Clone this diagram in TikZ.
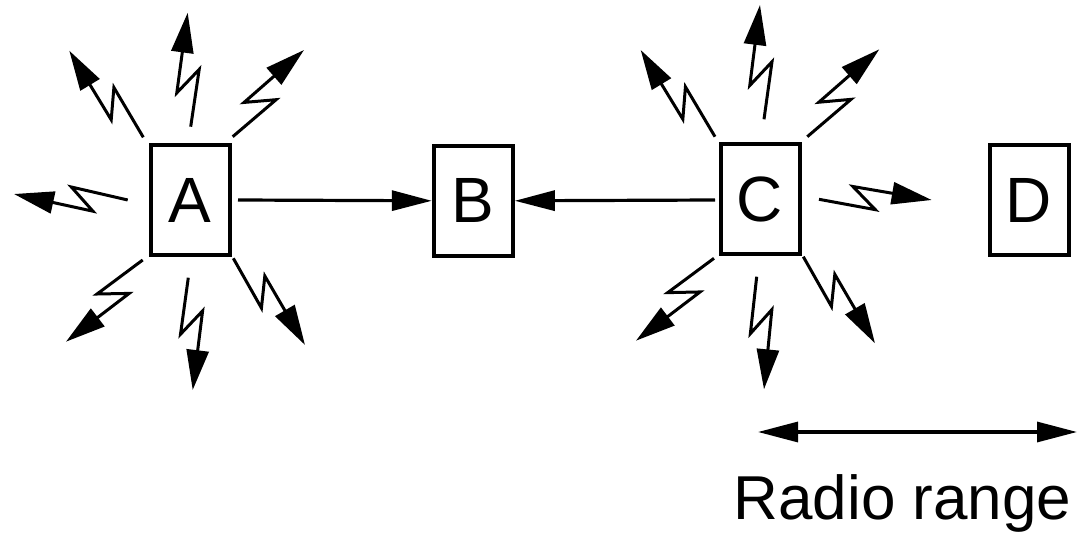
\documentclass[tikz,border=0pt]{standalone}
\usepackage{fontspec}
\setmainfont{Liberation Sans}
\usetikzlibrary{calc,arrows.meta}
\tikzset{
  station/.style={draw,line width=2pt,minimum width=39.5pt,minimum height=55pt,inner sep=0pt,font=\fontsize{32}{36}\selectfont},
  zap/.style={line width=1.5pt,-{Triangle[length=20pt,width=11pt]}},
  link/.style={line width=1.6pt,-{Triangle[length=20pt,width=10pt]}},
  rangearrow/.style={line width=1.6pt,{Triangle[length=20pt,width=10pt]}-{Triangle[length=20pt,width=10pt]}}
}
\newcommand\zapline[2]{\draw[zap] (#1) -- ($(#1)!0.5!(#2)!5pt!-90:(#2)$) -- ($(#1)!0.3!(#2)!6.5pt!90:(#2)$) -- (#2);}
\begin{document}
\begin{tikzpicture}[x=0.5pt,y=-0.5pt]
\useasboundingbox (0,0) rectangle (1078,535);
\node[station] (A) at (190,200) {A};
\node[station] (B) at (473.3,200.8) {B};
\node[station] (C) at (760,199) {C};
\node[station] (D) at (1029,200.5) {D};
% A radiation
\coordinate (a1s) at (143.3,137.3); \coordinate (a1t) at (69.3,50.7);
\coordinate (a2s) at (190.7,126.7); \coordinate (a2t) at (187.7,12.7);
\coordinate (a3s) at (232.7,136.7); \coordinate (a3t) at (304,50);
\coordinate (a4s) at (127.7,200);   \coordinate (a4t) at (14,194);
\coordinate (a5s) at (142.7,260);   \coordinate (a5t) at (66,341.7);
\coordinate (a6s) at (188.3,277.7); \coordinate (a6t) at (192.7,390);
\coordinate (a7s) at (233.3,258.3); \coordinate (a7t) at (305,345);
% C radiation
\coordinate (c1s) at (715,136.7);   \coordinate (c1t) at (640.7,50);
\coordinate (c2s) at (764,119.3);   \coordinate (c2t) at (760,5);
\coordinate (c3s) at (807.3,136.7); \coordinate (c3t) at (879.3,49.3);
\coordinate (c4s) at (819,199.3);   \coordinate (c4t) at (931.7,200);
\coordinate (c5s) at (714,258.3);   \coordinate (c5t) at (636,340.7);
\coordinate (c6s) at (756.7,276.7); \coordinate (c6t) at (764,389.3);
\coordinate (c7s) at (803.3,256.7); \coordinate (c7t) at (875,343.3);
\foreach \i in {1,...,7}{\zapline{a\i s}{a\i t}\zapline{c\i s}{c\i t}}
% links
\coordinate (ab) at (238,200);
\coordinate (cb) at (715,200);
\draw[link] (ab) -- (B.west);
\draw[link] (cb) -- (B.east);
% radio range
\coordinate (r1) at (758,432);
\coordinate (r2) at (1077,432);
\draw[rangearrow] (r1) -- (r2);
\node[anchor=base,inner sep=0pt,font=\fontsize{31}{36}\selectfont] (rr) at (902.5,519) {Radio range};
\end{tikzpicture}
\end{document}
